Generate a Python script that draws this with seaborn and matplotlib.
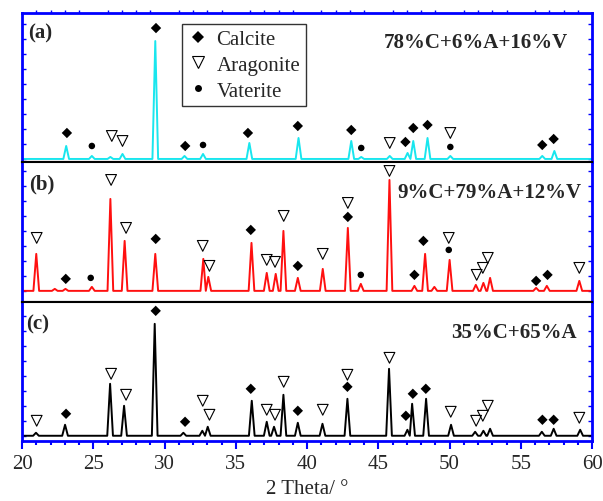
import matplotlib
matplotlib.use("Agg")
import matplotlib.pyplot as plt
from matplotlib.lines import Line2D
from matplotlib.ticker import MultipleLocator
import seaborn as sns

a_peak_pos = [23.1, 24.9, 26.2, 27.05, 29.35, 31.4, 32.7, 35.95, 39.4, 43.1, 43.8,
              45.8, 47.05, 47.45, 48.45, 50.05, 56.5, 57.35]
a_peak_int = [13, 3, 2, 5, 118, 3, 5, 16, 21, 18, 2, 3, 6, 18, 21, 3, 3, 8]

b_peak_pos = [21.0, 22.3, 23.05, 24.9, 26.2, 27.2, 29.35, 32.72, 33.07, 36.1, 37.17,
              37.8, 38.34, 39.35, 41.1, 42.86, 43.77, 45.78, 47.53, 48.28, 48.93,
              50.0, 51.84, 52.37, 52.84, 56.07, 56.82, 59.1]
b_peak_int = [37, 2, 2, 4, 92, 50, 37, 32, 14, 48, 18, 17, 60, 13, 22, 63, 7, 111,
              5, 37, 4, 31, 6, 8, 13, 3, 5, 10]

c_peak_pos = [20.98, 23.02, 26.18, 27.16, 29.31, 31.32, 32.65, 33.03, 36.12, 37.17,
              37.68, 38.34, 39.35, 41.08, 42.83, 45.75, 47.04, 47.37, 48.35, 50.1,
              51.79, 52.37, 52.84, 56.47, 57.3, 59.16]
c_peak_int = [3, 11, 52, 30, 112, 3, 5, 9, 35, 14, 9, 41, 13, 12, 37, 67, 6, 32, 37,
              11, 4, 5, 7, 4, 7, 6]

# phase markers: position and height above baseline
a_cal_pos = [23.15, 29.4, 31.45, 35.85, 39.35, 43.1, 46.9, 47.45, 48.45, 56.5, 57.3]
a_cal_int = [26, 131, 13, 26, 33, 29, 17, 31, 34, 14, 20]
a_ara_pos = [26.3, 27.05, 45.8, 50.05]
a_ara_int = [23, 18, 16, 26]
a_vat_pos = [24.9, 32.7, 43.8, 50.05]
a_vat_int = [13, 14, 11, 12]

b_cal_pos = [23.07, 29.38, 36.05, 39.35, 42.86, 47.53, 48.16, 56.07, 56.87]
b_cal_int = [12, 52, 61, 25, 74, 16, 50, 10, 16]
b_ara_pos = [21.03, 26.25, 27.3, 32.68, 33.15, 37.17, 37.75, 38.36, 41.1, 42.86,
             45.78, 49.94, 51.9, 52.33, 52.68, 59.1]
b_ara_int = [53, 111, 63, 45, 25, 31, 29, 75, 37, 88, 120, 53, 16, 23, 33, 23]
b_vat_pos = [24.82, 43.77, 49.94]
b_vat_int = [13, 16, 41]

c_cal_pos = [23.09, 29.38, 31.44, 36.05, 39.35, 42.83, 46.93, 47.42, 48.33, 56.51, 57.3]
c_cal_int = [22, 125, 14, 47, 25, 49, 20, 42, 47, 16, 16]
c_ara_pos = [21.03, 26.25, 27.3, 32.68, 33.15, 37.17, 37.75, 38.36, 41.1, 42.83,
             45.78, 50.08, 51.86, 52.33, 52.68, 59.1]
c_ara_int = [15, 62, 41, 35, 21, 26, 21, 54, 26, 61, 78, 24, 15, 20, 30, 18]

panel_tags = ["(a)", "(b)", "(c)"]
compositions = ["78%C+6%A+16%V", "9%C+79%A+12%V", "35%C+65%A"]
line_colors = ["#19e6ee", "#ff1010", "black"]

sns.set_style("ticks")
plt.rcParams["font.family"] = ["Liberation Serif", "DejaVu Sans"]

BLUE = "#0000ff"


def pattern(pos, inten, w=0.2):
    # flat baseline with a sharp peak at each reflection (no overlap between peaks)
    xs, ys = [20], [0]
    for k, (p, h) in enumerate(zip(pos, inten)):
        left = w if k == 0 else min(w, (p - pos[k - 1]) / 2)
        right = w if k == len(pos) - 1 else min(w, (pos[k + 1] - p) / 2)
        xs += [p - left, p, p + right]
        ys += [0, h, 0]
    xs.append(60)
    ys.append(0)
    return xs, ys


fig, axes = plt.subplots(3, 1, figsize=(6.03, 5.02), dpi=100, sharex=True,
                         gridspec_kw={"height_ratios": [149, 140, 139], "hspace": 0})
fig.subplots_adjust(left=0.0365, right=0.982, top=0.972, bottom=0.12)

peaks = [(a_peak_pos, a_peak_int), (b_peak_pos, b_peak_int), (c_peak_pos, c_peak_int)]
calcite = [(a_cal_pos, a_cal_int), (b_cal_pos, b_cal_int), (c_cal_pos, c_cal_int)]
aragonite = [(a_ara_pos, a_ara_int), (b_ara_pos, b_ara_int), (c_ara_pos, c_ara_int)]
vaterite = [(a_vat_pos, a_vat_int), (b_vat_pos, b_vat_int), None]
ylims = [(-3, 146), (-11, 129), (-5, 134)]
comp_xy = [(0.958, 0.805), (0.982, 0.786), (0.973, 0.784)]
tag_xy = [(0.010, 0.872), (0.013, 0.843), (0.008, 0.842)]

for i, ax in enumerate(axes):
    xs, ys = pattern(*peaks[i])
    sns.lineplot(x=xs, y=ys, ax=ax, color=line_colors[i], lw=1.4,
                 sort=False, estimator=None)
    sns.scatterplot(x=calcite[i][0], y=calcite[i][1], ax=ax, marker="D", s=28,
                    color="black", edgecolor="none", clip_on=False, zorder=5)
    sns.scatterplot(x=aragonite[i][0], y=aragonite[i][1], ax=ax, marker="v", s=60,
                    facecolor="none", edgecolor="black", linewidth=0.8,
                    clip_on=False, zorder=5)
    if vaterite[i] is not None:
        sns.scatterplot(x=vaterite[i][0], y=vaterite[i][1], ax=ax, marker="o", s=22,
                        color="black", edgecolor="none", clip_on=False, zorder=5)

    ax.set_xlim(20, 60)
    ax.set_ylim(*ylims[i])
    ax.set_ylabel("")
    ax.set_yticklabels([])
    ax.yaxis.set_major_locator(MultipleLocator(15))
    ax.tick_params(axis="y", which="both", left=True, right=True, direction="in",
                   color=BLUE, length=3, width=1)

    for side in ["left", "right"]:
        ax.spines[side].set_color(BLUE)
        ax.spines[side].set_linewidth(2)
    ax.spines["top"].set_color("black")
    ax.spines["bottom"].set_color("black")
    ax.spines["top"].set_linewidth(1.5)
    ax.spines["bottom"].set_linewidth(1.5)

    ax.xaxis.set_major_locator(MultipleLocator(5))
    ax.xaxis.set_minor_locator(MultipleLocator(1))
    ax.tick_params(axis="x", which="major", direction="out", length=6, width=1,
                   color="black", bottom=True, top=False, labelsize=15)
    ax.tick_params(axis="x", which="minor", direction="out", length=3, width=1,
                   color="black", bottom=True, top=False)

    ax.text(*tag_xy[i], panel_tags[i], transform=ax.transAxes, fontsize=15,
            fontweight="bold", ha="left", va="center")
    ax.text(*comp_xy[i], compositions[i], transform=ax.transAxes, fontsize=15,
            fontweight="bold", ha="right", va="center")

# outer frame is blue
axes[0].spines["top"].set_color(BLUE)
axes[0].spines["top"].set_linewidth(2)
axes[0].tick_params(axis="x", which="minor", top=True, color=BLUE, length=2)
axes[2].spines["bottom"].set_color(BLUE)
axes[2].spines["bottom"].set_linewidth(2)
axes[2].tick_params(axis="x", which="both", color=BLUE, width=1.5)
axes[2].set_xlabel("2 Theta/ °", fontsize=15, labelpad=4)

handles = [
    Line2D([], [], ls="", marker="D", color="black", markersize=6, markeredgewidth=0),
    Line2D([], [], ls="", marker="v", markerfacecolor="none", markeredgecolor="black",
           markersize=9, markeredgewidth=0.8),
    Line2D([], [], ls="", marker="o", color="black", markersize=5, markeredgewidth=0),
]
leg = axes[0].legend(handles, ["Calcite", "Aragonite", "Vaterite"], loc="upper left",
                     bbox_to_anchor=(0.281, 0.926), borderaxespad=0, fontsize=15,
                     frameon=True, fancybox=False, edgecolor="black",
                     handletextpad=0.4, handlelength=1.0, labelspacing=0.3,
                     borderpad=0.25)
leg.get_frame().set_linewidth(1)

fig.savefig("out.png", dpi=100)
